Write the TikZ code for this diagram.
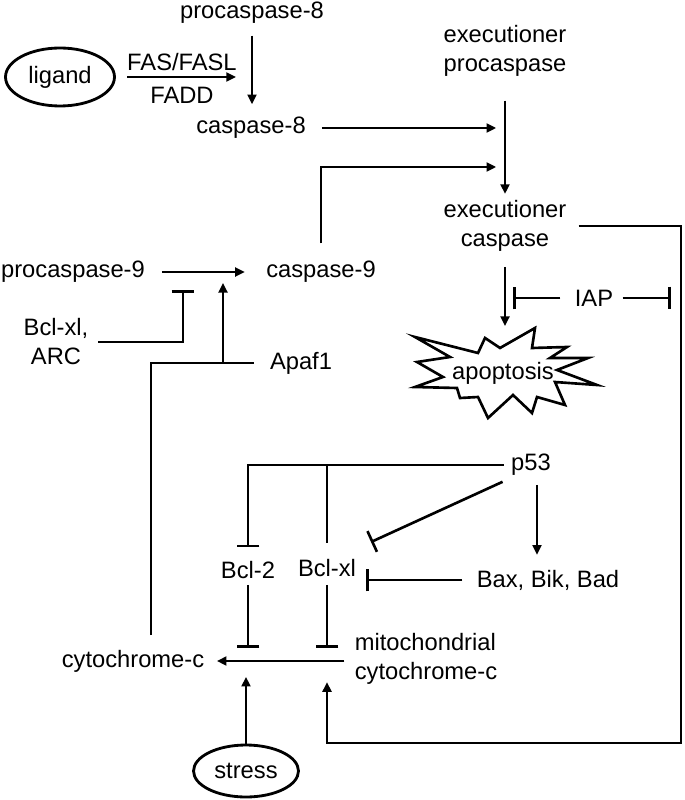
\documentclass[tikz,border=0pt]{standalone}
\usepackage{fontspec}
\setmainfont{Liberation Sans}
\usetikzlibrary{arrows.meta,shapes.geometric}

\tikzset{
  lbl/.style={font=\fontsize{13.5}{16.5}\selectfont, inner sep=2pt, align=center},
  ln/.style={line width=1.5pt},
  arr/.style={ln, -{Triangle[length=5.5pt,width=5pt]}},
  inh/.style={ln, -{Bar[width=13pt]}},
  oval/.style={ellipse, draw, line width=1.6pt}
}

\begin{document}
\begin{tikzpicture}[x=0.02cm,y=-0.02cm]
\useasboundingbox (0,0) rectangle (685,800);

            \node[lbl] (pc8) at (252,13) {procaspase-8};
            \node[lbl,oval,minimum width=2.18cm,minimum height=1.16cm] (lig) at (60,77) {ligand};
            \node[lbl] (c8) at (251,128) {caspase-8};
            \node[lbl] (ep) at (505,51) {executioner\\procaspase};
            \node[lbl] (ec) at (505,226) {executioner\\caspase};
            \node[lbl] (pc9) at (73,272) {procaspase-9};
            \node[lbl] (c9) at (321,272) {caspase-9};
            \node[lbl] (barc) at (56,342) {Bcl-xl,\\ARC};
            \node[lbl] (apaf) at (301,363) {Apaf1};
            \node[lbl] (iap) at (594,298) {IAP};
            \node[lbl] (apop) at (503,373) {apoptosis};
            \node[lbl] (p53) at (531,465) {p53};
            \node[lbl] (bcl2) at (248,570) {Bcl-2};
            \node[lbl] (bclxl) at (327,568) {Bcl-xl};
            \node[lbl] (bax) at (548,580) {Bax, Bik, Bad};
            \node[lbl] (cyt) at (133,661) {cytochrome-c};
            \node[lbl,align=left] (mito) at (426,659) {mitochondrial\\cytochrome-c};
            \node[lbl,oval,minimum width=2.1cm,minimum height=1.04cm] (stress) at (246,771) {stress};

            % burst round apoptosis
            \draw[ln,line join=miter] (415,337) -- (478,353) -- (485,338) -- (500,348) -- (535,328)
              -- (532,348) -- (567,347) -- (550,358) -- (588,358) -- (557,370) -- (597,385)
              -- (555,382) -- (565,405) -- (537,397) -- (532,413) -- (513,395) -- (488,418)
              -- (478,397) -- (460,398) -- (457,388) -- (415,387) -- (443,377) -- (417,362)
              -- (450,357) -- cycle;

            \coordinate (fas) at (236,77);
            \coordinate (tb) at (183,290);
            \coordinate (ja) at (223,363);
            \coordinate (t9) at (505,167);
            \coordinate (tx) at (371,542);
            \coordinate (fb) at (681,743);

            % extrinsic pathway
            \draw[arr,shorten <=6.5pt] (lig) -- (fas)
              node[lbl,pos=0.55,above=1pt] {FAS/FASL} node[lbl,pos=0.55,below=3pt] {FADD};
            \draw[arr,shorten <=4.5pt,shorten >=5.2pt] (pc8.south) -- (pc8.south |- c8.north);
            \draw[arr,shorten <=7pt,shorten >=5pt] (c8.east) -- (c8.east -| ec.north);
            \draw[arr,shorten <=11.5pt,shorten >=1.5pt] (ep.south) -- (ec.north);
            \draw[arr,shorten <=8pt,shorten >=5pt] (c9.north) |- (t9);

            % caspase-9
            \draw[arr,shorten <=7.5pt,shorten >=10pt] (pc9.east) -- (c9.west);
            \draw[inh,shorten <=3.5pt] (barc.east) -| (tb);
            \draw[ln,shorten <=6.3pt,shorten >=7pt] ([xshift=10.2pt]cyt.north) |- (apaf.west);
            \draw[arr,shorten >=6.2pt] (ja) -- (ja |- pc9);

            \draw[arr,shorten <=6.5pt,shorten >=18.2pt] (ec.south) -- (ec.south |- apop.north);
            \draw[inh,shorten <=6pt,shorten >=4.5pt] (iap.west) -- (iap.west -| ec.south);
            \draw[inh,shorten <=3.2pt,shorten >=5.7pt] (iap.east) -- (iap.east -| fb);
            \draw[arr,shorten <=4.8pt,shorten >=12pt] (ec.east) -| (fb) -| (bclxl.south |- cyt);

            % p53 and the Bcl family
            \draw[inh,shorten <=2pt,shorten >=5.8pt] (p53.west) -| (bcl2.north);
            \draw[ln,shorten >=7pt] (bclxl.north |- p53.west) -- (bclxl.north);
            \draw[inh,shorten <=3pt] (p53.south west) -- (tx);
            \draw[arr,shorten <=3pt,shorten >=6.4pt] ([xshift=3.4pt]p53.south) -- ([xshift=3.4pt]p53.south |- bax.north);
            \draw[inh,shorten <=6pt,shorten >=3.7pt] (bax.west) -- (bax.west -| bclxl.east);

            \foreach \n/\s in {bcl2/1.3pt,bclxl/2.4pt}{
              \draw[inh,shorten <=\s,shorten >=7.4pt] (\n.south) -- (\n.south |- cyt);
            }

            \draw[arr,shorten <=3.7pt,shorten >=5pt] (mito.west |- cyt) -- (cyt.east);
            \draw[arr,shorten >=9pt] (stress.north) -- (stress.north |- cyt);
        \end{tikzpicture}
\end{document}
